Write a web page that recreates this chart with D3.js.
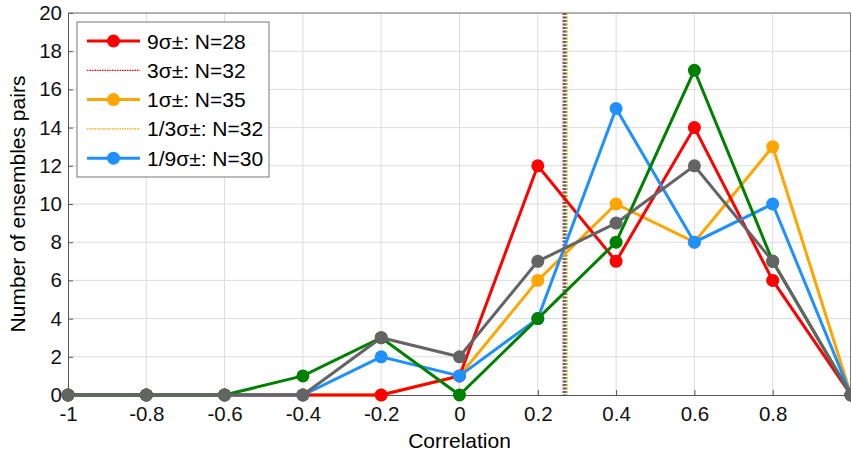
<!DOCTYPE html>
<meta charset="utf-8">
<style>
	body { margin: 0; background: #fff; }
	svg { font-family: "Liberation Sans", Arial, sans-serif; }
	.grid line { stroke: #dcdcdc; stroke-width: 1; }
	.axis path, .axis line { stroke: #555; }
	.axis text { font-size: 20.5px; fill: #111; font-family: "Liberation Sans", Arial, sans-serif; }
</style>
<script src="https://d3js.org/d3.v7.min.js"></script>
<svg width="851" height="453" class="chart"></svg>
<script>
	var correlation = [-1, -0.8, -0.6, -0.4, -0.2, 0, 0.2, 0.4, 0.6, 0.8, 1];
	var xTicks = [-1, -0.8, -0.6, -0.4, -0.2, 0, 0.2, 0.4, 0.6, 0.8];
	var yTicks = [0, 2, 4, 6, 8, 10, 12, 14, 16, 18, 20];

	var red    = [0, 0, 0, 0, 0, 1, 12, 7, 14, 6, 0];
	var orange = [0, 0, 0, 0, 0, 1, 6, 10, 8, 13, 0];
	var blue   = [0, 0, 0, 0, 2, 1, 4, 15, 8, 10, 0];
	var green  = [0, 0, 0, 1, 3, 0, 4, 8, 17, 7, 0];
	var gray   = [0, 0, 0, 0, 3, 2, 7, 9, 12, 7, 0];

	// mean correlation of each ensemble set (vertical lines)
	var meanNames = ["red", "blue", "green", "gray", "orange"];
	var meanValues = [0.265, 0.268, 0.27, 0.272, 0.275];

	var legendLabels = ["9σ±: N=28", "3σ±: N=32", "1σ±: N=35", "1/3σ±: N=32", "1/9σ±: N=30"];

	var colors = {red: "#ff0000", orange: "#ffa500", blue: "#1e90ff", green: "#008000", gray: "#646464"};

	var svg = d3.select(".chart"),
		margin = {top: 13, right: 0, bottom: 58, left: 68},
		width = +svg.attr("width") - margin.left - margin.right,
		height = +svg.attr("height") - margin.top - margin.bottom;

	var x = d3.scaleLinear().domain([-1, 1]).range([0, width]);
	var y = d3.scaleLinear().domain([0, 20]).range([height, 0]);

	var g = svg.append("g")
		.attr("transform", "translate(" + margin.left + "," + margin.top + ")");

	// grid
	g.append("g").attr("class", "grid")
		.selectAll("line").data(xTicks.slice(1)).enter().append("line")
		.attr("x1", function(d) { return x(d); }).attr("x2", function(d) { return x(d); })
		.attr("y1", 0).attr("y2", height);
	g.append("g").attr("class", "grid")
		.selectAll("line").data(yTicks.slice(1)).enter().append("line")
		.attr("x1", 0).attr("x2", width)
		.attr("y1", function(d) { return y(d); }).attr("y2", function(d) { return y(d); });

	// axes with inward ticks
	g.append("g")
		.attr("class", "axis")
		.attr("transform", "translate(0," + height + ")")
		.call(d3.axisBottom(x).tickValues(xTicks).tickSizeInner(-5).tickSizeOuter(0).tickPadding(11)
			.tickFormat(function(d) { return String(d); }))
		.call(function(a) { a.select(".domain").attr("stroke", "#444"); });

	g.append("g")
		.attr("class", "axis")
		.call(d3.axisLeft(y).tickValues(yTicks).tickSizeInner(-5).tickSizeOuter(0).tickPadding(6))
		.call(function(a) { a.select(".domain").attr("stroke", "#555"); });

	g.append("line")
		.attr("x1", 0).attr("x2", width).attr("y1", 0).attr("y2", 0)
		.attr("stroke", "#777");
	g.append("line")
		.attr("x1", width - 0.5).attr("x2", width - 0.5).attr("y1", 0).attr("y2", height)
		.attr("stroke", "#777");

	// vertical mean lines
	g.selectAll(".mean")
		.data(meanValues).enter().append("line")
		.attr("class", "mean")
		.attr("x1", function(d) { return x(d); }).attr("x2", function(d) { return x(d); })
		.attr("y1", 0).attr("y2", height)
		.attr("stroke", function(d, i) { return colors[meanNames[i]]; })
		.attr("stroke-width", 1.3)
		.attr("stroke-dasharray", "2,1.5");

	var line = d3.line()
		.x(function(d, i) { return x(correlation[i]); })
		.y(function(d) { return y(d); });

	var series = [
		{c: colors.orange, v: orange},
		{c: colors.red, v: red},
		{c: colors.blue, v: blue},
		{c: colors.green, v: green},
		{c: colors.gray, v: gray}
	];

	series.forEach(function(s) {
		g.append("path")
			.datum(s.v)
			.attr("fill", "none")
			.attr("stroke", s.c)
			.attr("stroke-width", 3)
			.attr("d", line);
		g.selectAll(null)
			.data(s.v).enter().append("circle")
			.attr("cx", function(d, i) { return x(correlation[i]); })
			.attr("cy", function(d) { return y(d); })
			.attr("r", 6.5)
			.attr("fill", s.c);
	});

	// axis titles
	svg.append("text")
		.attr("x", margin.left + x(0))
		.attr("y", 448)
		.attr("text-anchor", "middle")
		.attr("font-size", 21)
		.text("Correlation");

	svg.append("text")
		.attr("transform", "rotate(-90)")
		.attr("x", -(margin.top + height / 2))
		.attr("y", 25)
		.attr("text-anchor", "middle")
		.attr("font-size", 21)
		.text("Number of ensembles pairs");

	// legend
	var legend = svg.append("g").attr("transform", "translate(77,22)");
	legend.append("rect")
		.attr("width", 192).attr("height", 155)
		.attr("fill", "#fff").attr("stroke", "#777").attr("stroke-width", 1);

	var legendStyle = [
		{c: colors.red, dot: true},
		{c: colors.red, dot: false},
		{c: colors.orange, dot: true},
		{c: colors.orange, dot: false},
		{c: colors.blue, dot: true}
	];

	legendLabels.forEach(function(label, i) {
		var ly = 19 + i * 29.3;
		var st = legendStyle[i];
		legend.append("line")
			.attr("x1", 10).attr("x2", 63).attr("y1", ly).attr("y2", ly)
			.attr("stroke", st.c)
			.attr("stroke-width", st.dot ? 3 : 1.2)
			.attr("stroke-dasharray", st.dot ? null : "1.5,1");
		if (st.dot) {
			legend.append("circle").attr("cx", 36.5).attr("cy", ly).attr("r", 6.5).attr("fill", st.c);
		}
		legend.append("text")
			.attr("x", 70).attr("y", ly + 7.5)
			.attr("font-size", 21)
			.text(label);
	});
</script>
